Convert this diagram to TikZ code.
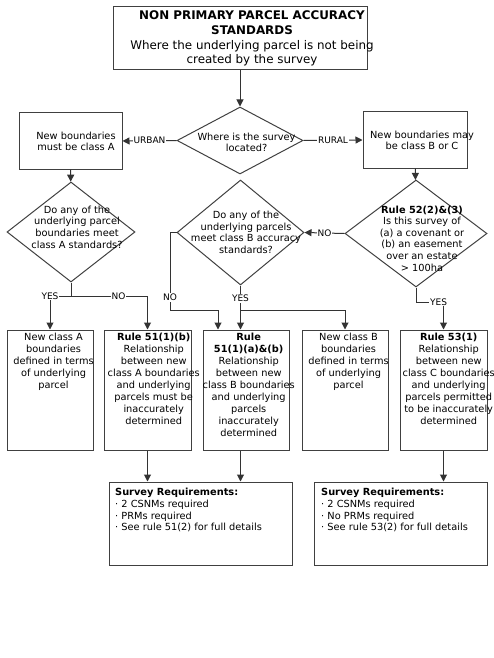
\documentclass[tikz,border=0pt]{standalone}
\usepackage{fontspec}
\setmainfont{DejaVu Sans}
\usetikzlibrary{shapes.geometric,arrows.meta}
\begin{document}
\begin{tikzpicture}
		[	x=1pt,y=-1pt,
		box/.style={rectangle,draw=black!75,line width=1pt,inner sep=0pt},
		choice/.style={diamond,draw=black!75,line width=1pt,inner sep=0pt},
		txt/.style={inner sep=0pt,align=center,font=\fontsize{9.8}{11.6}\selectfont},
		ruletxt/.style={txt,anchor=north,font=\fontsize{9.8}{12}\selectfont},
		reqtxt/.style={inner sep=0pt,align=left,anchor=north west,font=\fontsize{9.8}{11.7}\selectfont},
		plain/.style={fill=white,inner sep=1pt,font=\fontsize{9}{10}\selectfont},
		link/.style={draw=black!80,line width=1pt,-{Triangle[length=7pt,width=7pt]}},
		wire/.style={draw=black!80,line width=1pt}
		]
		\useasboundingbox (0,0) rectangle (493,658);

		\node[box,minimum width=254,minimum height=63] (head) at (240,38.5){};
		\node[txt,font=\fontsize{11.9}{14.7}\selectfont] (headtxt) at (252,38.5){\textbf{NON PRIMARY PARCEL ACCURACY}\\\textbf{STANDARDS}\\Where the underlying parcel is not being\\created by the survey};

		\node[choice,minimum width=126,minimum height=67] (where) at (240,140.5){};
		\node[txt] (wheretxt) at (246.5,142.5){Where is the survey\\located?};
		\node[box,minimum width=103,minimum height=56] (urban) at (70.5,141){};
		\node[txt] (urbantxt) at (76,141.5){New boundaries\\must be class A};
		\node[box,minimum width=104,minimum height=56] (rural) at (415,140){};
		\node[txt] (ruraltxt) at (422,140.5){New boundaries may\\be class B or C};

		\node[choice,minimum width=128,minimum height=100] (testA) at (71,232){};
		\node[txt] (testAtxt) at (77,227){Do any of the\\underlying parcel\\boundaries meet\\class A standards?};
		\node[choice,minimum width=127,minimum height=105] (testB) at (240.5,232.5){};
		\node[txt] (testBtxt) at (246,232.5){Do any of the\\underlying parcels\\meet class B accuracy\\standards?};
		\node[choice,minimum width=142,minimum height=107] (testC) at (416,233.5){};
		\node[txt] (testCtxt) at (422,238.5){\textbf{Rule 52(2)\&(3)}\\Is this survey of\\(a) a covenant or\\(b) an easement\\over an estate\\> 100ha};

		\node[box,minimum width=86,minimum height=120] (keepA) at (50,390){};
		\node[box,minimum width=87,minimum height=120] (ruleA) at (147.5,390){};
		\node[box,minimum width=86,minimum height=120] (ruleB) at (246,390){};
		\node[box,minimum width=86,minimum height=120] (keepB) at (345,390){};
		\node[box,minimum width=87,minimum height=120] (ruleC) at (443.5,390){};

\node[ruletxt] (keepAtxt) at (53.5,333){New class A\\boundaries\\defined in terms\\of underlying\\parcel};
\node[ruletxt] (ruleAtxt) at (153.7,333){\textbf{Rule 51(1)(b)}\\Relationship\\between new\\class A boundaries\\and underlying\\parcels must be\\inaccurately\\determined};
\node[ruletxt] (ruleBtxt) at (248.7,333){\textbf{Rule}\\\textbf{51(1)(a)\&(b)}\\Relationship\\between new\\class B boundaries\\and underlying\\parcels\\inaccurately\\determined};
\node[ruletxt] (keepBtxt) at (348.5,333){New class B\\boundaries\\defined in terms\\of underlying\\parcel};
\node[ruletxt] (ruleCtxt) at (448.7,333){\textbf{Rule 53(1)}\\Relationship\\between new\\class C boundaries\\and underlying\\parcels permitted\\to be inaccurately\\determined};

		\node[box,minimum width=183,minimum height=83] (reqA) at (200.5,523.5){};
		\node[reqtxt] (reqAtxt) at (115,488){\textbf{Survey Requirements:}\\· 2 CSNMs required\\· PRMs required\\· See rule 51(2) for full details};
		\node[box,minimum width=173,minimum height=83] (reqC) at (400.5,523.5){};
		\node[reqtxt] (reqCtxt) at (321,488){\textbf{Survey Requirements:}\\· 2 CSNMs required\\· No PRMs required\\· See rule 53(2) for full details};

		\coordinate (splitA) at (71,296);
		\coordinate (noB) at (170,310);
		\coordinate (yesB) at (240.5,310);
		\coordinate (yesC) at (443.5,302);

		\draw[link] (head) -- (where);
		\draw[link] (where.west) --  node[plain]{URBAN} (urban.east);
		\draw[link] (where.east) --  node[plain]{RURAL} (rural.west);
		\draw[link] (urban) -- (testA);
		\draw[link] (rural) -- (testC);
		\draw[link] (testC.west) --  node[plain]{NO} (testB.east);

		\draw[wire] (testA.south) -- (splitA);
		\draw[link] (splitA) -| node[plain,pos=.31]{NO} (ruleA.north);
		\draw[link] (splitA) -| node[plain]{YES} (keepA.north);
		\draw[link] (testB.west) -| node[plain,pos=.92]{NO} (noB) -| ([xshift=-28]ruleB.north);
		\draw[link] (testB.south) --  node[plain,pos=.29]{YES} (testB.south |- ruleB.north);
		\draw[link] (yesB) -| (keepB.north);
		\draw[link] (testC.south) |- node[plain,pos=.91]{YES} (yesC) -- (ruleC.north);

		\draw[link] (ruleA.south) -- (ruleA.south |- reqA.north);
		\draw[link] (testB.south |- ruleB.south) -- (testB.south |- reqA.north);
		\draw[link] (ruleC.south) -- (ruleC.south |- reqC.north);
	\end{tikzpicture}
\end{document}
